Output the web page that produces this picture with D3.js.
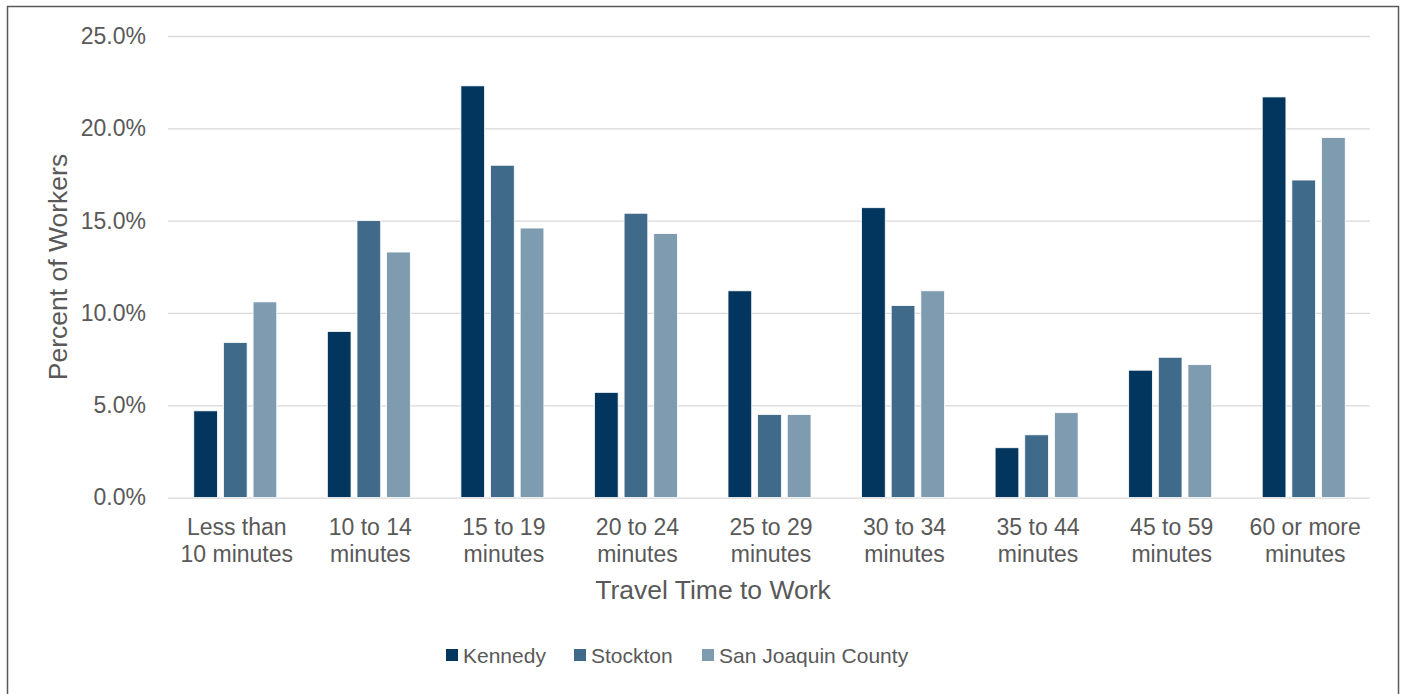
<!DOCTYPE html>
<html>
<head>
<meta charset="utf-8">
<script src="https://cdn.jsdelivr.net/npm/d3@7"></script>
<style>
  html, body { margin: 0; padding: 0; background: #fff; }
  svg { display: block; font-family: "Liberation Sans", Arial, sans-serif; }
</style>
</head>
<body>
<svg id="chart" width="1411" height="694"></svg>
<script>
// Share of workers by commute length
const categories = [
  ["Less than", "10 minutes"],
  ["10 to 14", "minutes"],
  ["15 to 19", "minutes"],
  ["20 to 24", "minutes"],
  ["25 to 29", "minutes"],
  ["30 to 34", "minutes"],
  ["35 to 44", "minutes"],
  ["45 to 59", "minutes"],
  ["60 or more", "minutes"]
];
const seriesNames = ["Kennedy", "Stockton", "San Joaquin County"];
const kennedy   = [4.7, 9.0, 22.3, 5.7, 11.2, 15.7, 2.7, 6.9, 21.7];
const stockton  = [8.4, 15.0, 18.0, 15.4, 4.5, 10.4, 3.4, 7.6, 17.2];
const sjCounty  = [10.6, 13.3, 14.6, 14.3, 4.5, 11.2, 4.6, 7.2, 19.5];
const yTicks = [0, 5, 10, 15, 20, 25];
const colors = ["#03365f", "#3f6a8a", "#7f9bb0"];

const series = [kennedy, stockton, sjCounty];
const svg = d3.select("#chart");
const textColor = "#595959";

// frame around the chart
svg.append("rect")
  .attr("x", 7.5).attr("y", 6.5)
  .attr("width", 1391).attr("height", 700)
  .attr("fill", "none").attr("stroke", "#595959").attr("stroke-width", 1.5);

const plot = { left: 168, right: 1370, top: 36, bottom: 497.6 };

const y = d3.scaleLinear().domain([0, 25]).range([plot.bottom, plot.top]);
const x0 = d3.scaleBand().domain(d3.range(categories.length))
  .range([plot.left, plot.right]).paddingInner(0).paddingOuter(0);
const groupWidth = 83;
const x1 = d3.scaleBand().domain(d3.range(series.length))
  .range([0, groupWidth]).paddingInner(0.2);

// gridlines and tick labels
const yAxis = d3.axisLeft(y).tickValues(yTicks)
  .tickSize(-(plot.right - plot.left))
  .tickFormat(d => d.toFixed(1) + "%")
  .tickPadding(22);
const gy = svg.append("g").attr("transform", `translate(${plot.left},0)`).call(yAxis);
gy.select(".domain").remove();
gy.selectAll(".tick line").attr("stroke", "#d9d9d9").attr("stroke-width", 1.3);
gy.selectAll(".tick text")
  .attr("fill", textColor).attr("font-size", 23)
  .attr("font-family", "Liberation Sans, Arial, sans-serif");

// bars
const groups = svg.append("g").selectAll("g")
  .data(categories.map((c, i) => i))
  .join("g")
  .attr("transform", i => `translate(${x0(i) + (x0.bandwidth() - groupWidth) / 2 + 0.5},0)`);

groups.selectAll("rect")
  .data(i => series.map((s, k) => ({ k, v: s[i] })))
  .join("rect")
  .attr("x", d => x1(d.k))
  .attr("width", x1.bandwidth())
  .attr("y", d => y(d.v))
  .attr("height", d => y(0) - y(d.v))
  .attr("fill", d => colors[d.k])
  .attr("stroke", "#ffffff").attr("stroke-width", 0.8);

// category labels
const xl = svg.append("g");
categories.forEach((lines, i) => {
  const t = xl.append("text")
    .attr("x", x0(i) + x0.bandwidth() / 2 + 2)
    .attr("y", 535)
    .attr("text-anchor", "middle")
    .attr("fill", textColor).attr("font-size", 23);
  lines.forEach((ln, j) => {
    t.append("tspan").attr("x", x0(i) + x0.bandwidth() / 2 + 2)
      .attr("dy", j === 0 ? 0 : 26.5).text(ln);
  });
});

// axis titles
svg.append("text")
  .attr("x", 713).attr("y", 599)
  .attr("text-anchor", "middle")
  .attr("fill", textColor).attr("font-size", 26.5)
  .text("Travel Time to Work");

svg.append("text")
  .attr("transform", "translate(67,267) rotate(-90)")
  .attr("text-anchor", "middle")
  .attr("fill", textColor).attr("font-size", 26.5)
  .text("Percent of Workers");

// legend
const legendX = [446, 574, 702];
const legend = svg.append("g");
seriesNames.forEach((name, k) => {
  legend.append("rect")
    .attr("x", legendX[k]).attr("y", 649)
    .attr("width", 12).attr("height", 12)
    .attr("fill", colors[k]);
  legend.append("text")
    .attr("x", legendX[k] + 17).attr("y", 663)
    .attr("fill", textColor).attr("font-size", 21)
    .text(name);
});
</script>
</body>
</html>
